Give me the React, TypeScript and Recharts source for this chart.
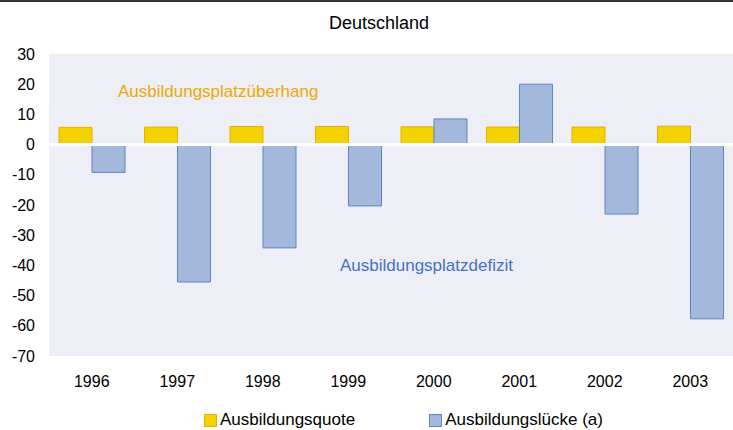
import React from "react";
import {
  BarChart,
  Bar,
  XAxis,
  YAxis,
  CartesianGrid,
  ReferenceLine,
  Legend,
} from "recharts";

const jahre: string[] = ["1996", "1997", "1998", "1999", "2000", "2001", "2002", "2003"];
const quote: number[] = [5.7, 5.8, 6.0, 6.0, 5.9, 5.8, 5.8, 6.1];
const luecke: number[] = [-9.2, -45.5, -34.2, -20.3, 8.5, 20.0, -23.0, -57.7];
const yTicks: number[] = [30, 20, 10, 0, -10, -20, -30, -40, -50, -60, -70];

const data = jahre.map((jahr, i) => ({
  jahr,
  quote: quote[i],
  luecke: luecke[i],
}));

const FONT = "'Liberation Sans', Arial, sans-serif";

const legendItems = [
  { label: "Ausbildungsquote", fill: "#F2D200", stroke: "#E8B000" },
  { label: "Ausbildungslücke (a)", fill: "#A4B8DC", stroke: "#5B87C8" },
];

// eigene Legende, damit die Abstände wie im Original sind
const renderLegend = () => (
  <div style={{ display: "flex", fontFamily: FONT, fontSize: 17, color: "#000" }}>
    {legendItems.map((it, i) => (
      <div
        key={it.label}
        style={{ display: "flex", alignItems: "center", marginRight: i === 0 ? 74 : 0 }}
      >
        <span
          style={{
            width: 11,
            height: 11,
            background: it.fill,
            border: `1px solid ${it.stroke}`,
            marginRight: 3,
            display: "inline-block",
          }}
        />
        <span>{it.label}</span>
      </div>
    ))}
  </div>
);

export default function App() {
  return (
    <div
      style={{
        position: "absolute",
        left: 0,
        top: 0,
        width: 733,
        height: 430,
        background: "#fff",
        fontFamily: FONT,
      }}
    >
      <div
        style={{
          position: "absolute",
          left: 0,
          top: 0,
          width: 733,
          borderTop: "2px solid #333",
        }}
      />
      <div
        style={{
          position: "absolute",
          left: 0,
          top: 13,
          width: 758,
          textAlign: "center",
          fontSize: 18,
          color: "#000",
        }}
      >
        Deutschland
      </div>
      <BarChart
        width={733}
        height={430}
        data={data}
        margin={{ top: 54, right: 0, left: 0, bottom: 34 }}
        barSize={33}
        barGap={0}
      >
        <CartesianGrid fill="#EEEEF7" horizontal={false} vertical={false} />
        <XAxis
          dataKey="jahr"
          axisLine={false}
          tickLine={false}
          tickSize={0}
          tickMargin={20}
          height={40}
          tick={{ fill: "#000", fontSize: 16, fontFamily: FONT }}
        />
        <YAxis
          domain={[-70, 30]}
          ticks={yTicks}
          interval={0}
          axisLine={false}
          tickLine={false}
          tickSize={0}
          tickMargin={14}
          width={49}
          tick={{ fill: "#000", fontSize: 16, fontFamily: FONT }}
        />
        <Bar
          dataKey="quote"
          fill="#F2D200"
          stroke="#E8B000"
          strokeWidth={1}
          isAnimationActive={false}
        />
        <Bar
          dataKey="luecke"
          fill="#A4B8DC"
          stroke="#5B87C8"
          strokeWidth={1}
          isAnimationActive={false}
        />
        <ReferenceLine y={0} stroke="#FFFFFF" strokeWidth={3} />
        <Legend
          verticalAlign="middle"
          layout="horizontal"
          content={renderLegend}
          wrapperStyle={{ position: "absolute", left: 204, top: 410, width: 500 }}
        />
      </BarChart>
      <div
        style={{
          position: "absolute",
          left: 118,
          top: 82,
          fontSize: 17,
          color: "#F0A800",
          whiteSpace: "nowrap",
        }}
      >
        Ausbildungsplatzüberhang
      </div>
      <div
        style={{
          position: "absolute",
          left: 340,
          top: 256,
          fontSize: 17,
          color: "#4472C4",
          whiteSpace: "nowrap",
        }}
      >
        Ausbildungsplatzdefizit
      </div>
    </div>
  );
}
